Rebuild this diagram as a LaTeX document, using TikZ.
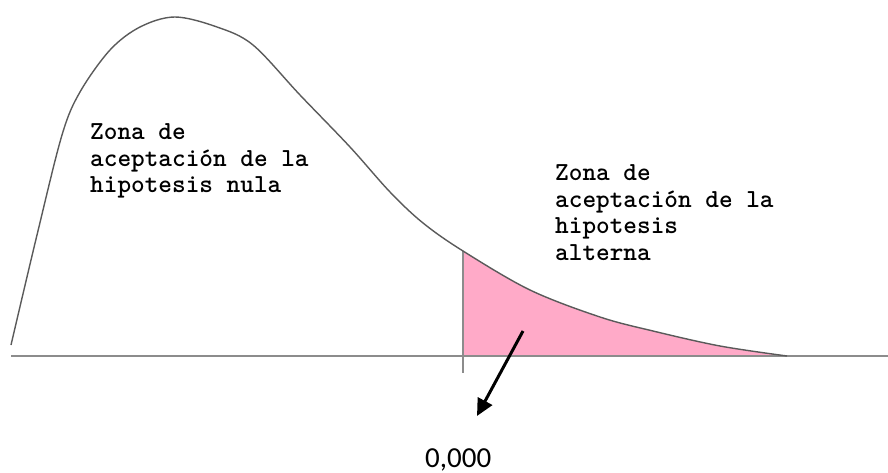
\documentclass[tikz,border=0pt]{standalone}
\usepackage{fontspec}
\usetikzlibrary{arrows.meta}
\newfontfamily\numlbl{Carlito}
\definecolor{curvegray}{HTML}{5A5A5A}
\definecolor{axisgray}{HTML}{8C8C8C}
\definecolor{pinkfill}{HTML}{FFAAC8}
\begin{document}
\begin{tikzpicture}[x=1pt,y=-1pt,
  zonelbl/.style={anchor=base west, inner sep=0pt, align=left,
    font=\ttfamily\bfseries\fontsize{26}{26.5}\selectfont},
  curveline/.style={draw=curvegray, line width=1.4pt},
  axisline/.style={draw=axisgray, line width=2pt},
  markline/.style={draw=axisgray, line width=1.4pt},
  pointer/.style={draw=black, line width=3pt, -{Triangle[length=17pt,width=16pt]}}]
\useasboundingbox (0,0) rectangle (888,473);
% shaded rejection area
\begin{scope}
  \clip (463,0) rectangle (888,356);
  \fill[pinkfill] plot[smooth, tension=0.55] coordinates {(11,345) (37,235) (62,135) (80,92) (110,50) (140,27) (175,17) (217,27) (253,45) (300,95) (350,147) (390,192) (423,223) (463,251) (530,290) (600,317) (653,331) (720,346) (787,356)} -- (787,356) -- (11,356) -- cycle;
\end{scope}
% axis
\coordinate (axL) at (11,356);
\coordinate (axR) at (888,356);
\draw[axisline] (axL) -- (axR);
% critical value mark
\coordinate (mkT) at (463,251);
\coordinate (mkB) at (463,373);
\draw[markline] (mkT) -- (mkB);
% density curve
\draw[curveline] plot[smooth, tension=0.55] coordinates {(11,345) (37,235) (62,135) (80,92) (110,50) (140,27) (175,17) (217,27) (253,45) (300,95) (350,147) (390,192) (423,223) (463,251) (530,290) (600,317) (653,331) (720,346) (787,356)};
% labels (base anchor = baseline of last line)
\node[zonelbl] (nula) at (90,193) {Zona de\\aceptación de la\\hipotesis nula};
\node[zonelbl] (alt) at (555,260) {Zona de\\aceptación de la\\hipotesis\\alterna};
% pointer
\coordinate (arS) at (523,331);
\coordinate (arE) at (477,416);
\draw[pointer] (arS) -- (arE);
\node[anchor=base west, inner sep=0pt, font=\numlbl\fontsize{29}{34}\selectfont] (val) at (425,467) {0,000};
\end{tikzpicture}
\end{document}
